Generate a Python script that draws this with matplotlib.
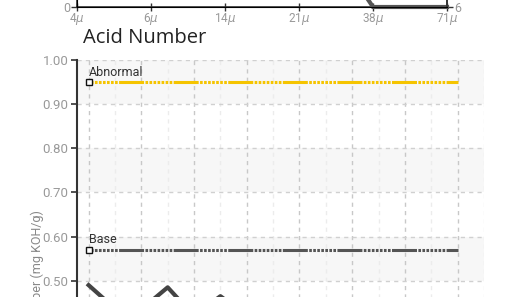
import matplotlib
matplotlib.use("Agg")
import matplotlib.pyplot as plt

plt.rcParams['lines.scale_dashes'] = False

W, H = 508, 297

# particle count strip (top chart, only its bottom edge is in view)
size_labels = [r"4$\mu$", r"6$\mu$", r"14$\mu$", r"21$\mu$", r"38$\mu$", r"71$\mu$"]
count_vals = [40, 35, 28, 13.4, 6, 6]

# acid number chart
acid_x = [0, 0.75, 1.5, 2.0, 2.5, 3.0]
acid_vals = [0.49, 0.41, 0.485, 0.42, 0.465, 0.42]
limit_x = [0, 7]
abnormal = 0.95
base = 0.57
y_ticks = [0.50, 0.60, 0.70, 0.80, 0.90, 1.00]

tick_font = ['Roboto', 'DejaVu Sans']
grey_txt = '#999999'


def fx(px):
    return px / W


def fy(py):
    return 1 - py / H


fig = plt.figure(figsize=(W / 100, H / 100), dpi=100)

# ---- top chart -------------------------------------------------------
axt = fig.add_axes([fx(77), fy(7), fx(447) - fx(77), 150 / H])
axt.set_xlim(0, 5)
axt.set_ylim(0, 10)
axt.patch.set_alpha(0)
axt.spines['top'].set_visible(False)
for s in ['left', 'right', 'bottom']:
    axt.spines[s].set_color('#333333')
    axt.spines[s].set_linewidth(1.2)
axt.set_xticks(range(len(size_labels)))
axt.set_xticklabels(size_labels, family=tick_font, fontsize=8.5, color=grey_txt)
axt.tick_params(axis='x', direction='inout', length=6, width=1, color='#333333', pad=0)
axt.set_yticks([0])
axt.set_yticklabels(['0'], family=tick_font, fontsize=9, color=grey_txt)
axt.tick_params(axis='y', length=4, width=1, color='#333333', pad=1)

axr = axt.twinx()
axr.set_ylim(6, 16)
axr.spines['top'].set_visible(False)
axr.spines['right'].set_color('#333333')
axr.spines['right'].set_linewidth(1.2)
axr.set_yticks([6])
axr.set_yticklabels(['6'], family=tick_font, fontsize=9, color=grey_txt)
axr.tick_params(axis='y', length=4, width=1, color='#333333', pad=1)
axr.plot(range(len(count_vals)), count_vals, color='#555555', lw=3, clip_on=False,
         solid_joinstyle='miter')

# ---- acid number chart ----------------------------------------------
ax = fig.add_axes([fx(77), fy(369), fx(484) - fx(77), 309 / H])
ax.set_xlim(-0.22, 7.23)
ax.set_ylim(0.30, 1.00)

# alternating bands
for lo in [0.3, 0.5, 0.7, 0.9]:
    ax.axhspan(lo, lo + 0.1, color='#f7f7f7', lw=0, zorder=0)

ax.set_yticks(y_ticks)
ax.set_yticklabels(['%.2f' % v for v in y_ticks], family=tick_font, fontsize=9.5,
                   color=grey_txt)
ax.tick_params(axis='y', length=4, width=1.2, color='#333333', pad=2)
ax.set_xticks(range(8))
ax.set_xticks([i + 0.5 for i in range(8)], minor=True)
ax.tick_params(axis='x', which='both', length=0, labelbottom=False)

for s in ['top', 'right', 'bottom']:
    ax.spines[s].set_visible(False)
ax.spines['left'].set_color('#333333')
ax.spines['left'].set_linewidth(1.5)

ax.grid(axis='y', color='#d0d0d0', lw=1, ls=(0, (3, 3)), zorder=1)
ax.grid(axis='x', which='major', color='#c8c8c8', lw=1, ls=(0, (3, 3)), zorder=1)
ax.grid(axis='x', which='minor', color='#ececec', lw=1, ls=(0, (3, 3)), zorder=1)

# long dash, then a run of small dots; one period per major grid step
pattern = (18.0, (18.0, 1.0) + (1.9, 1.0) * 7)
ax.plot(limit_x, [abnormal] * 2, color='#f5c400', lw=2.2, ls=pattern, zorder=3)
ax.plot(limit_x, [base] * 2, color='#555555', lw=2.2, ls=pattern, zorder=3)
ax.plot([0], [abnormal], 's', ms=4, mfc='white', mec='#111111', mew=1, zorder=4)
ax.plot([0], [base], 's', ms=4, mfc='white', mec='#111111', mew=1, zorder=4)
ax.text(0, abnormal + 0.008, 'Abnormal', family=tick_font, fontsize=9,
        color='#333333', va='bottom', ha='left')
ax.text(0, base + 0.008, 'Base', family=tick_font, fontsize=9,
        color='#333333', va='bottom', ha='left')

ax.plot(acid_x, acid_vals, color='#444444', lw=3, zorder=5)

fig.text(fx(83), fy(38), 'Acid Number', family=['Open Sans', 'DejaVu Sans'],
         fontsize=14.5, color='#222222', va='center', ha='left')
fig.text(fx(37), fy(210), 'Acid Number (mg KOH/g)', family=tick_font, fontsize=9,
         color='#888888', rotation=90, ha='center', va='top')

fig.savefig('out.png', dpi=100)
